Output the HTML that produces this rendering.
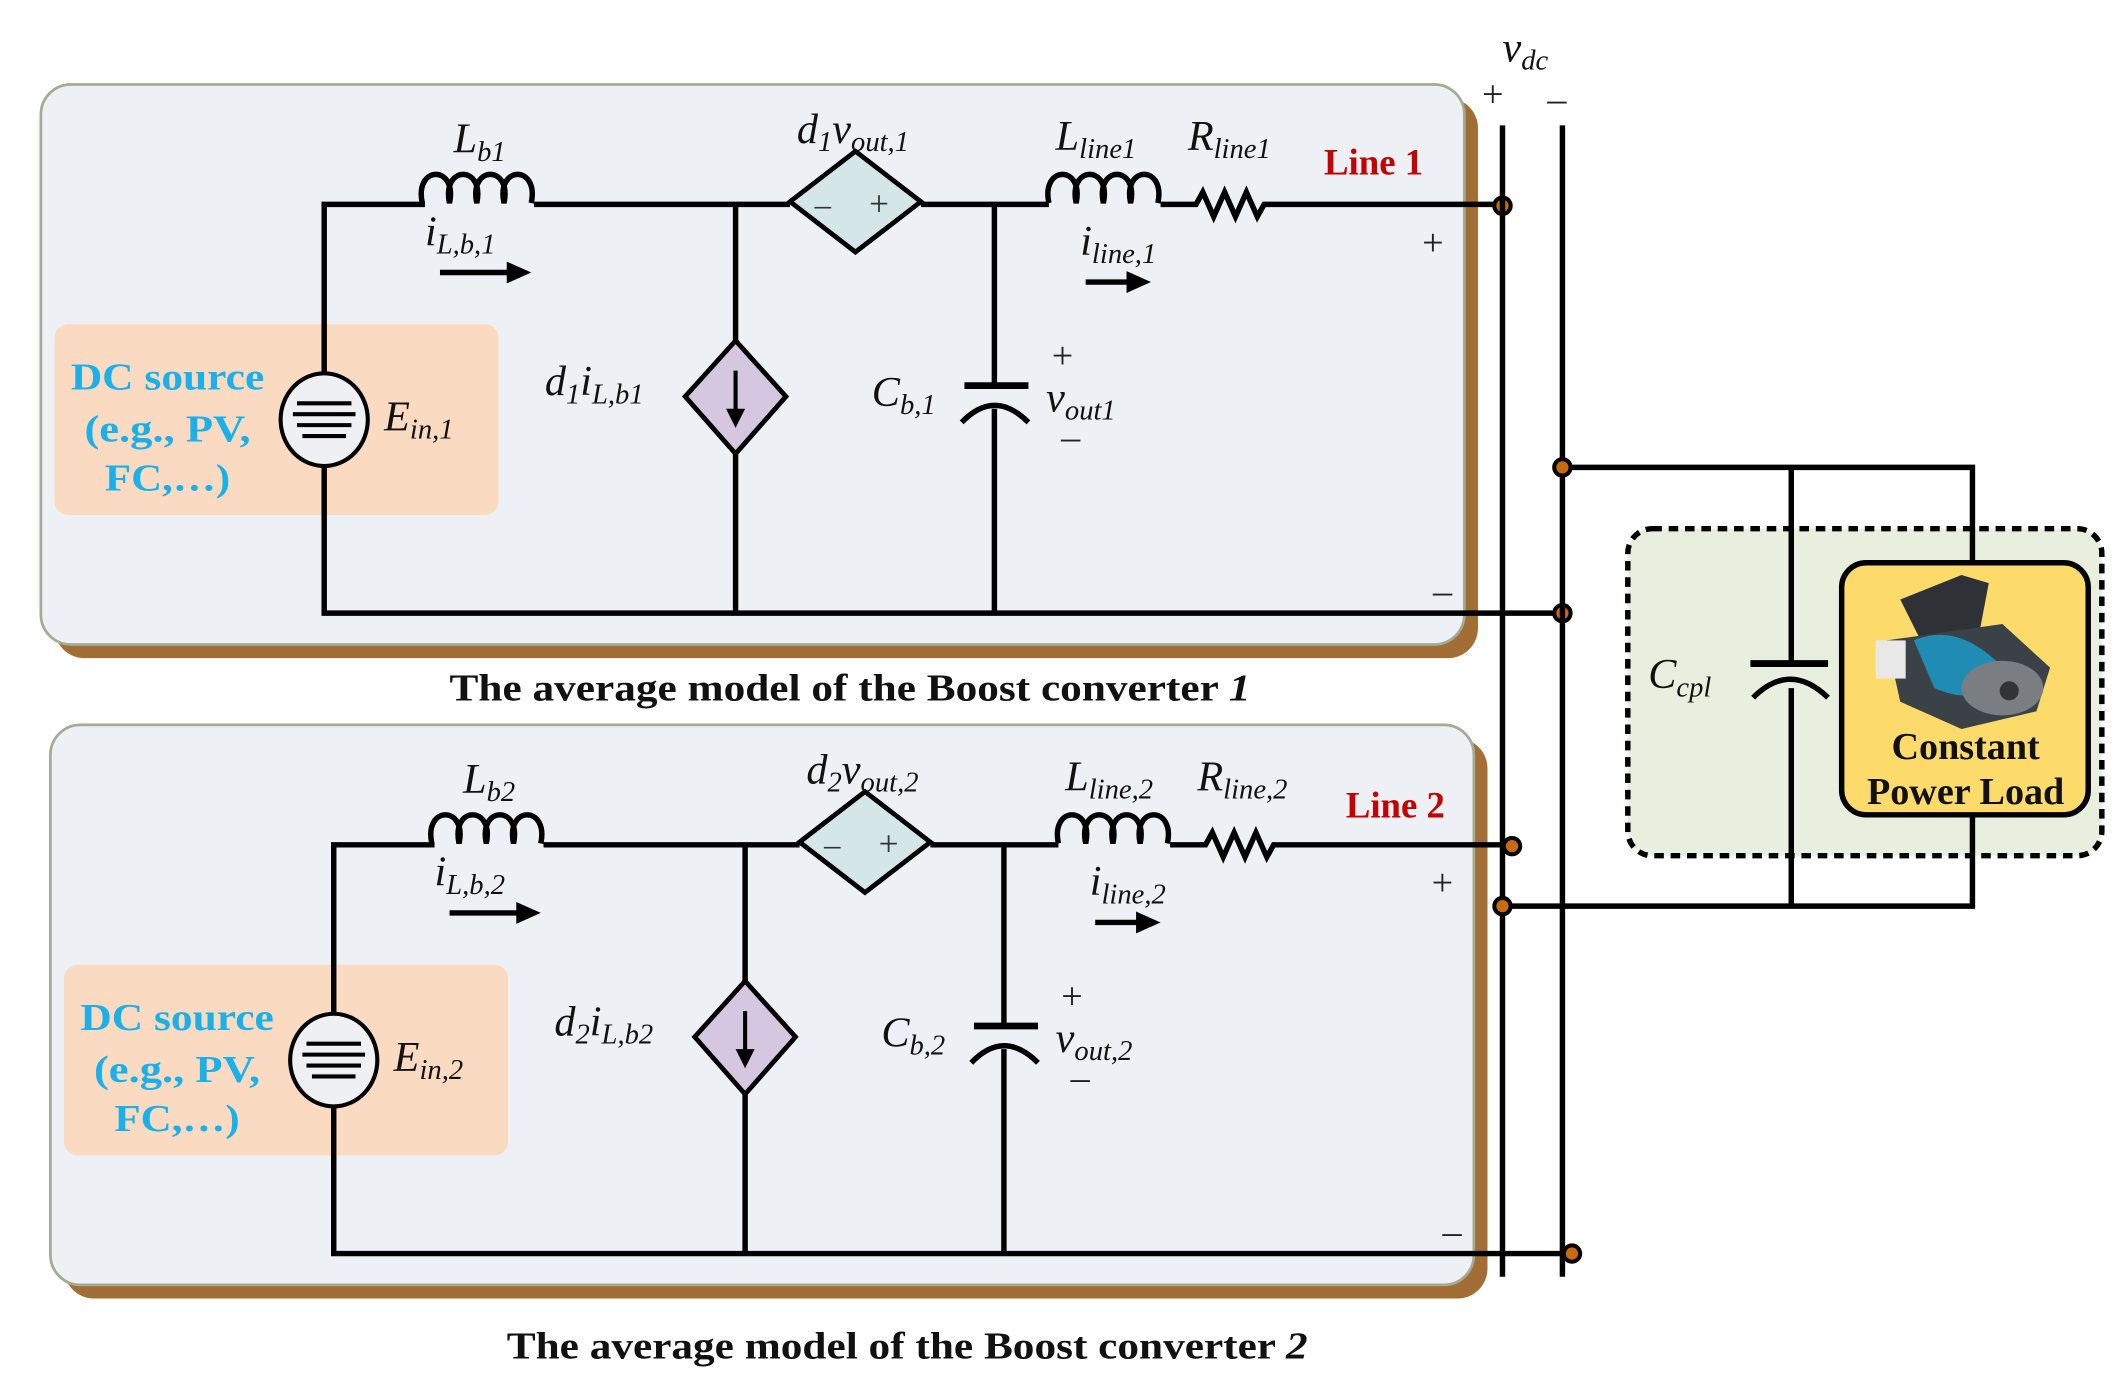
<!DOCTYPE html>
<html><head><meta charset="utf-8"><style>
html,body{margin:0;padding:0;background:#fff;}
svg{display:block;}
text{font-family:"Liberation Serif",serif;}
.it{font-style:italic;font-size:31px;fill:#111;}
.sub{font-size:21px;}
.w{stroke:#000;stroke-width:4;fill:none;}
.dc{font-weight:bold;font-size:28px;fill:#1bb0ea;}
.red{font-weight:bold;font-size:27px;fill:#c40000;}
.pm{font-size:28px;fill:#222;}
.cap{font-weight:bold;font-size:28px;fill:#111;}
</style></head><body>
<svg width="2125" height="1398" viewBox="0 0 1560 1026" preserveAspectRatio="none" xmlns="http://www.w3.org/2000/svg">
<defs>
<g id="circ">
  <rect x="40" y="72" width="1045" height="411" rx="22" fill="#a36d36"/>
  <rect x="30" y="62" width="1045" height="411" rx="22" fill="#edf1f6" stroke="#a3ab92" stroke-width="2"/>
  <rect x="40" y="238" width="326" height="140" rx="10" fill="#fbdac2"/>
  <path class="w" d="M238,308 V150 H312 M392,150 H580 M676,150 H770 M852,150 H878 l5,-9 l8,18 l8,-18 l8,18 l8,-18 l8,18 l5,-9 H1103"/>
  <path class="w" d="M238,308 V450 H1147"/>
  <path class="w" d="M540,150 V450"/>
  <path class="w" d="M730,150 V283 M730,300 V450"/>
  <path class="w" d="M312,150 c-6,-28 26,-28 20,0 c-6,-28 26,-28 20,0 c-6,-28 26,-28 20,0 c-6,-28 26,-28 20,0" transform="translate(-2,-1)"/>
  <path class="w" d="M770,150 c-6,-28 26,-28 20,0 c-6,-28 26,-28 20,0 c-6,-28 26,-28 20,0 c-6,-28 26,-28 20,0" transform="translate(0,-1)"/>
  <polygon points="580,148 628,111 676,148 628,185" fill="#d4e6e8" stroke="#000" stroke-width="3.5"/>
  <text x="598" y="158" font-size="24" fill="#333">–</text>
  <text x="638" y="158" font-size="26" fill="#333">+</text>
  <polygon points="540,250 577,291 540,333 503,291" fill="#d6c7e0" stroke="#000" stroke-width="3.5"/>
  <path d="M540,272 V306" stroke="#000" stroke-width="3"/>
  <polygon points="533,300 547,300 540,314" fill="#000"/>
  <path d="M708,283 H755" stroke="#000" stroke-width="5"/>
  <path d="M706,310 Q730,285 755,310" class="w" stroke-width="4.5"/>
  <ellipse cx="238" cy="308" rx="32" ry="34" fill="#eef0f4" stroke="#000" stroke-width="3"/>
  <path d="M218,296 H258 M215,304 H261 M218,312 H258 M222,320 H254" stroke="#000" stroke-width="3"/>
  <path d="M323,200 H375" stroke="#000" stroke-width="4"/><polygon points="372,192 390,200 372,208" fill="#000"/>
  <path d="M797,207 H830" stroke="#000" stroke-width="4"/><polygon points="827,199 845,207 827,215" fill="#000"/>
  <circle cx="1103" cy="151" r="6" fill="#c86a10" stroke="#000" stroke-width="3"/>
  <circle cx="1147" cy="450" r="6" fill="#c86a10" stroke="#000" stroke-width="3"/>
  <text x="1044" y="187" class="pm">+</text>
  <text x="1052" y="443" class="pm">–</text>
  <text x="780" y="270" class="pm" text-anchor="middle">+</text>
  <text x="786" y="330" class="pm" text-anchor="middle">–</text>
  <text x="52" y="286" class="dc" textLength="142" lengthAdjust="spacingAndGlyphs">DC source</text>
  <text x="62" y="324" class="dc" textLength="122" lengthAdjust="spacingAndGlyphs">(e.g., PV,</text>
  <text x="77" y="360" class="dc" textLength="92" lengthAdjust="spacingAndGlyphs">FC,…)</text>
</g>
</defs>

<use href="#circ"/>
<use href="#circ" transform="translate(7,470)"/>

<text x="333" y="112" class="it">L<tspan class="sub" dy="6">b1</tspan></text>
<text x="312" y="180" class="it">i<tspan class="sub" dy="6">L,b,1</tspan></text>
<text x="585" y="105" class="it">d<tspan class="sub" dy="6">1</tspan><tspan dy="-6">v</tspan><tspan class="sub" dy="6">out,1</tspan></text>
<text x="775" y="110" class="it">L<tspan class="sub" dy="6">line1</tspan></text>
<text x="872" y="110" class="it">R<tspan class="sub" dy="6">line1</tspan></text>
<text x="972" y="128" class="red">Line 1</text>
<text x="793" y="187" class="it">i<tspan class="sub" dy="6">line,1</tspan></text>
<text x="400" y="290" class="it">d<tspan class="sub" dy="6">1</tspan><tspan dy="-6">i</tspan><tspan class="sub" dy="6">L,b1</tspan></text>
<text x="640" y="298" class="it">C<tspan class="sub" dy="6">b,1</tspan></text>
<text x="768" y="302" class="it">v<tspan class="sub" dy="6">out1</tspan></text>
<text x="282" y="316" class="it">E<tspan class="sub" dy="6">in,1</tspan></text>

<text x="340" y="582" class="it">L<tspan class="sub" dy="6">b2</tspan></text>
<text x="319" y="650" class="it">i<tspan class="sub" dy="6">L,b,2</tspan></text>
<text x="592" y="575" class="it">d<tspan class="sub" dy="6">2</tspan><tspan dy="-6">v</tspan><tspan class="sub" dy="6">out,2</tspan></text>
<text x="782" y="580" class="it">L<tspan class="sub" dy="6">line,2</tspan></text>
<text x="879" y="580" class="it">R<tspan class="sub" dy="6">line,2</tspan></text>
<text x="988" y="600" class="red">Line 2</text>
<text x="800" y="657" class="it">i<tspan class="sub" dy="6">line,2</tspan></text>
<text x="407" y="760" class="it">d<tspan class="sub" dy="6">2</tspan><tspan dy="-6">i</tspan><tspan class="sub" dy="6">L,b2</tspan></text>
<text x="647" y="768" class="it">C<tspan class="sub" dy="6">b,2</tspan></text>
<text x="775" y="772" class="it">v<tspan class="sub" dy="6">out,2</tspan></text>
<text x="289" y="786" class="it">E<tspan class="sub" dy="6">in,2</tspan></text>

<text x="330" y="514" class="cap" textLength="588" lengthAdjust="spacingAndGlyphs">The average model of the Boost converter <tspan font-style="italic">1</tspan></text>
<text x="372" y="997" class="cap" textLength="588" lengthAdjust="spacingAndGlyphs">The average model of the Boost converter <tspan font-style="italic">2</tspan></text>

<path d="M1103,92 V937 M1147,92 V937" stroke="#000" stroke-width="4"/>
<text x="1088" y="78" class="pm">+</text>
<text x="1136" y="82" class="pm">–</text>
<text x="1103" y="45" class="it">v<tspan class="sub" dy="6">dc</tspan></text>

<rect x="1195" y="388" width="348" height="240" rx="18" fill="#e9efdf" stroke="#000" stroke-width="4" stroke-dasharray="7,5"/>
<path class="w" d="M1147,343 H1448 V413 M1315,343 V487 M1315,505 V665 M1103,665 H1448 V598"/>
<path d="M1285,487 H1342" stroke="#000" stroke-width="5"/>
<path d="M1287,512 Q1314,485 1342,512" class="w" stroke-width="4.5"/>
<text x="1210" y="505" class="it">C<tspan class="sub" dy="6">cpl</tspan></text>
<rect x="1352" y="413" width="181" height="185" rx="18" fill="#fddb6b" stroke="#000" stroke-width="4"/>
<g>
  <polygon points="1395,440 1440,422 1460,428 1452,470 1410,470" fill="#2e3236"/>
  <polygon points="1385,470 1470,458 1505,490 1495,522 1440,535 1395,515" fill="#3a4248"/>
  <path d="M1405,470 Q1440,455 1475,495 Q1455,520 1420,505 Z" fill="#1a9fd0" opacity="0.8"/>
  <rect x="1377" y="470" width="22" height="28" fill="#e8e8e8"/>
  <ellipse cx="1470" cy="505" rx="30" ry="20" fill="#7a7e82"/>
  <circle cx="1475" cy="507" r="7" fill="#333"/>
</g>
<text x="1443" y="557" class="cap" font-size="22" text-anchor="middle">Constant</text>
<text x="1443" y="590" class="cap" font-size="22" text-anchor="middle">Power Load</text>

<circle cx="1147" cy="343" r="6" fill="#c86a10" stroke="#000" stroke-width="3"/>
<circle cx="1103" cy="665" r="6" fill="#c86a10" stroke="#000" stroke-width="3"/>
</svg>
</body></html>
